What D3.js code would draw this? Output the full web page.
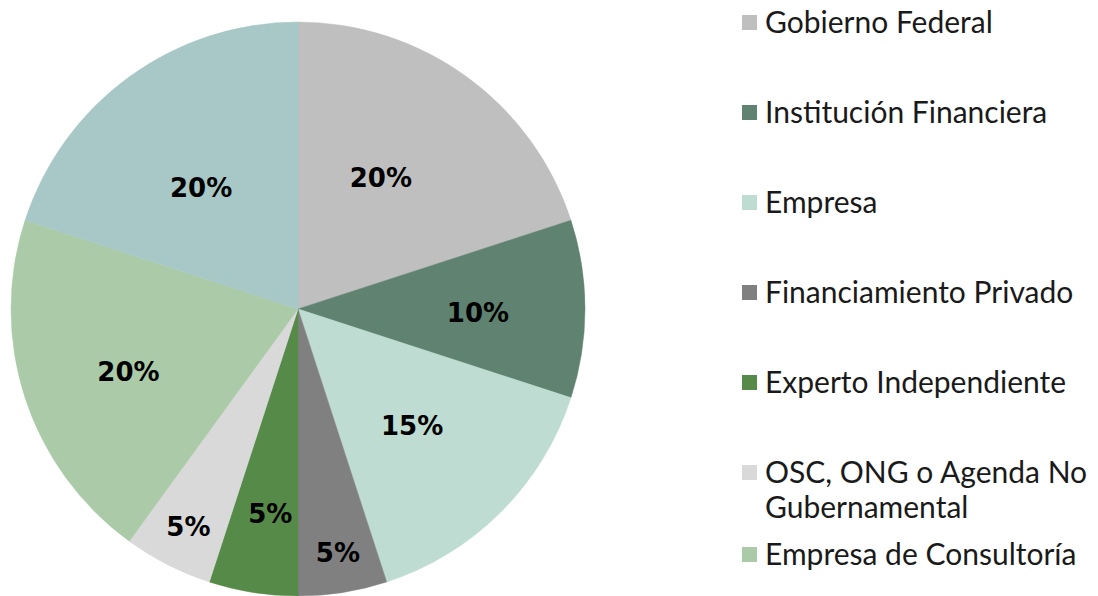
<!DOCTYPE html>
<html><head><meta charset="utf-8">
<script src="https://cdn.jsdelivr.net/npm/d3@7"></script>
<style>
html,body{margin:0;padding:0;background:#fff;}
svg{display:block;}
</style></head>
<body>
<svg id="chart" width="1098" height="596"></svg>
<script>
// Data
const categories = ["Gobierno Federal","Institución Financiera","Empresa","Financiamiento Privado","Experto Independiente","OSC, ONG o Agenda No Gubernamental","Empresa de Consultoría","Otro"];
const values = [20,10,15,5,5,5,20,20];
const labels = ["20%","10%","15%","5%","5%","5%","20%","20%"];
const colors = ["#bfbfbf","#5f8370","#bedcd1","#808080","#568a48","#d9d9d9","#abcba8","#a7c8c6"];
// legend lines (wrapped as in the reference); only the first 7 fit in view
const legendLines = [["Gobierno Federal"],["Institución Financiera"],["Empresa"],["Financiamiento Privado"],["Experto Independiente"],["OSC, ONG o Agenda No","Gubernamental"],["Empresa de Consultoría"]];
// label placement (fraction of radius, angle shift in degrees)
const labelRadius = [0.54,0.627,0.568,0.86,0.72,0.85,0.63,0.54];
const labelShift = [-3.7,1.3,0.6,-0.3,-1.3,-0.3,-2.3,-2.7];

const svg = d3.select("#chart");
const cx = 298, cy = 309, R = 287;
const g = svg.append("g").attr("transform", `translate(${cx},${cy})`);

const pie = d3.pie().sort(null).value(d => d.v);
const data = categories.map((c,i)=>({c, v: values[i], i}));
const arcs = pie(data);
const arc = d3.arc().innerRadius(0).outerRadius(R);

g.selectAll("path.slice").data(arcs).join("path")
  .attr("class","slice")
  .attr("d", arc)
  .attr("fill", d => colors[d.data.i])
  .attr("stroke", d => colors[d.data.i])
  .attr("stroke-width", 0.5);

g.selectAll("text.lab").data(arcs).join("text")
  .attr("class","lab")
  .attr("transform", d => {
    const a = (d.startAngle + d.endAngle)/2 + labelShift[d.data.i]*Math.PI/180;
    const r = R*labelRadius[d.data.i];
    return `translate(${r*Math.sin(a)},${-r*Math.cos(a)})`;
  })
  .attr("text-anchor","middle")
  .attr("dy","0.36em")
  .attr("font-family","DejaVu Sans, sans-serif")
  .attr("font-weight","bold")
  .attr("font-size", 26)
  .attr("fill","#000")
  .text(d => labels[d.data.i]);

// Legend
const legendY = d3.scaleLinear().domain([0,1]).range([33,123]);
const lg = svg.append("g");
let extra = 0;
legendLines.forEach((lines, i) => {
  const y = legendY(i) + extra;
  lg.append("rect").attr("x",742).attr("y",y-18).attr("width",15).attr("height",15).attr("fill",colors[i]);
  const t = lg.append("text").attr("x",765).attr("y",y)
    .attr("font-family","Lato, sans-serif").attr("font-size",30).attr("fill","#1a1a1a");
  lines.forEach((ln, j) => {
    t.append("tspan").attr("x",765).attr("dy", j===0?0:35).text(ln);
  });
  if (lines.length > 1) extra += (lines.length-1)*35 - 45 + 2;
});
</script>
</body></html>
